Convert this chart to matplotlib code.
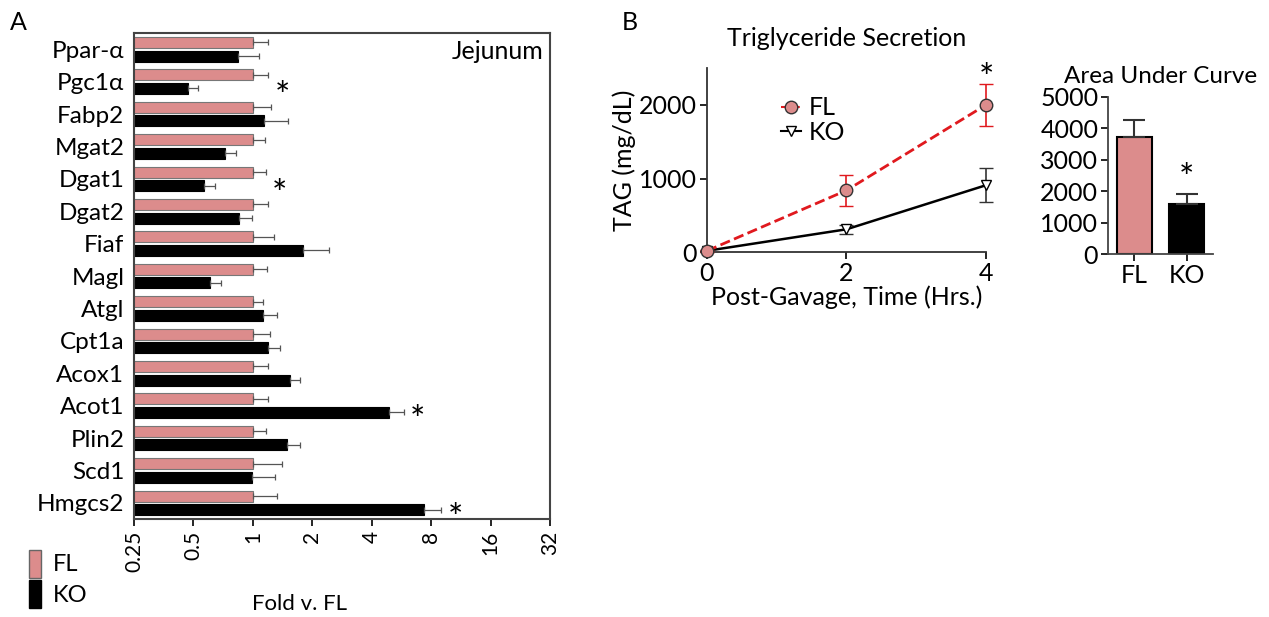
import numpy as np
import matplotlib
matplotlib.use('Agg')
import matplotlib.pyplot as plt
from matplotlib.patches import Patch
from matplotlib.lines import Line2D
from matplotlib.ticker import FixedLocator, NullLocator

plt.rcParams['font.family'] = ['Lato', 'DejaVu Sans']

# panel A: fold change, jejunum
genes = ['Ppar-α', 'Pgc1α', 'Fabp2', 'Mgat2', 'Dgat1', 'Dgat2', 'Fiaf', 'Magl',
         'Atgl', 'Cpt1a', 'Acox1', 'Acot1', 'Plin2', 'Scd1', 'Hmgcs2']
fl_fold = [1, 1, 1, 1, 1, 1, 1, 1, 1, 1, 1, 1, 1, 1, 1]
fl_err = [0.2, 0.2, 0.24, 0.15, 0.16, 0.2, 0.28, 0.18, 0.12, 0.22, 0.2, 0.19, 0.16, 0.40, 0.33]
ko_fold = [0.84, 0.47, 1.14, 0.72, 0.565, 0.85, 1.79, 0.61, 1.12, 1.2, 1.55, 4.9, 1.49, 0.99, 7.4]
ko_err = [0.24, 0.06, 0.36, 0.10, 0.075, 0.14, 0.65, 0.08, 0.21, 0.17, 0.19, 0.9, 0.25, 0.31, 1.6]
sig_genes = ['Pgc1α', 'Dgat1', 'Acot1', 'Hmgcs2']
xticks_a = [0.25, 0.5, 1, 2, 4, 8, 16, 32]
xtick_labels_a = ['0.25', '0.5', '1', '2', '4', '8', '16', '32']

# panel B: TAG secretion
hours = [0, 2, 4]
fl_tag = [20, 840, 2000]
fl_tag_err = [10, 215, 285]
ko_tag = [20, 312, 910]
ko_tag_err = [10, 60, 227]

# panel C: area under curve
groups = ['FL', 'KO']
auc = [3710, 1580]
auc_err = [550, 330]

pink = '#dc8c8c'
red = '#e0191e'

fig = plt.figure(figsize=(12.69, 6.17), dpi=100)

# ---- A
ax = fig.add_axes([0.1056, 0.1588, 0.3278, 0.7877])
y = np.arange(len(genes))
ax.barh(y - 0.21, fl_fold, height=0.34, left=0, color=pink, edgecolor='#777777', lw=0.8,
        xerr=[np.zeros(len(genes)), fl_err], error_kw=dict(ecolor='#555555', lw=0.9, capsize=2.5, capthick=0.9))
ax.barh(y + 0.21, ko_fold, height=0.34, left=0, color='black', edgecolor='black', lw=0.8,
        xerr=[np.zeros(len(genes)), ko_err], error_kw=dict(ecolor='#555555', lw=0.9, capsize=2.5, capthick=0.9))
ax.set_xscale('log', base=2)
ax.set_xlim(0.25, 32)
ax.set_ylim(len(genes) - 0.5, -0.5)
ax.xaxis.set_major_locator(FixedLocator(xticks_a))
ax.xaxis.set_minor_locator(NullLocator())
ax.set_xticklabels(xtick_labels_a, rotation=90, fontsize=15)
ax.set_yticks(y)
ax.set_yticklabels(genes, fontsize=17.5)
ax.tick_params(axis='y', length=0, pad=7)
ax.tick_params(axis='x', length=5, width=1.2, direction='out')
for s in ax.spines.values():
    s.set_linewidth(1.5)
    s.set_color('#444444')
for g in sig_genes:
    i = genes.index(g)
    edge = max(fl_fold[i] + fl_err[i], ko_fold[i] + ko_err[i])
    ax.text(edge * 1.18, i + 0.5, '*', fontsize=26, ha='center', va='center')
ax.text(0.985, 0.985, 'Jejunum', transform=ax.transAxes, ha='right', va='top', fontsize=18)
fig.text(0.236, 0.005, 'Fold v. FL', ha='center', va='bottom', fontsize=16)
fig.legend(handles=[Patch(facecolor=pink, edgecolor='#666666', label='FL'),
                    Patch(facecolor='black', edgecolor='black', label='KO')],
           loc='lower left', bbox_to_anchor=(0.006, -0.02), frameon=False, fontsize=17,
           handlelength=0.5, handleheight=1.45, handletextpad=0.5, labelspacing=0.1)
fig.text(0.008, 0.963, 'A', fontsize=18, va='center')

# ---- B
axb = fig.add_axes([0.5571, 0.5911, 0.2199, 0.2987])
axb.errorbar(hours, fl_tag, yerr=fl_tag_err, color=red, ls='--', lw=2, marker='o', ms=9,
             mfc=pink, mec='#333333', mew=1, ecolor=red, elinewidth=1.2, capsize=5, capthick=1.2,
             clip_on=False, zorder=3)
axb.errorbar(hours, ko_tag, yerr=ko_tag_err, color='black', ls='-', lw=1.8, marker='v', ms=7,
             mfc='white', mec='black', mew=1, ecolor='#333333', elinewidth=1.2, capsize=5, capthick=1.2,
             clip_on=False, zorder=2)
axb.set_xlim(0, 4)
axb.set_ylim(0, 2500)
axb.set_xticks([0, 2, 4])
axb.set_yticks([0, 1000, 2000])
axb.tick_params(labelsize=18, length=5, width=1.2, pad=2)
axb.spines[['top', 'right']].set_visible(False)
for s in ['left', 'bottom']:
    axb.spines[s].set_linewidth(1.3)
    axb.spines[s].set_color('#333333')
axb.set_ylabel('TAG (mg/dL)', fontsize=18, labelpad=2)
axb.set_xlabel('Post-Gavage, Time (Hrs.)', fontsize=18, labelpad=0)
axb.set_title('Triglyceride Secretion', fontsize=18, pad=16)
axb.text(4, fl_tag[2] + fl_tag_err[2] - 160, '*', fontsize=26, ha='center', va='bottom')
leg_handles = [Line2D([], [], color=red, ls='--', lw=1.5, marker='o', ms=9, mfc=pink, mec='#333333'),
               Line2D([], [], color='black', lw=1.5, marker='v', ms=7, mfc='white', mec='black')]
axb.legend(leg_handles, ['FL', 'KO'], loc='upper left', bbox_to_anchor=(0.23, 0.9), frameon=False,
           fontsize=18, handlelength=0.8, handletextpad=0.3, labelspacing=0.05, borderaxespad=0)
fig.text(0.49, 0.963, 'B', fontsize=18, va='center')

# ---- C
axc = fig.add_axes([0.8731, 0.5883, 0.0827, 0.255])
xc = np.arange(len(groups))
axc.bar(xc, auc, width=0.67, color=[pink, 'black'], edgecolor='black', lw=1.5,
        yerr=[[0, 0], auc_err], error_kw=dict(ecolor='#333333', lw=1.5, capsize=8, capthick=1.5))
axc.set_xlim(-0.5, 1.5)
axc.set_ylim(0, 5000)
axc.set_xticks(xc)
axc.set_xticklabels(groups)
axc.set_yticks(np.arange(0, 5001, 1000))
axc.tick_params(labelsize=18, length=5, width=1.2, pad=2)
axc.spines[['top', 'right']].set_visible(False)
for s in ['left', 'bottom']:
    axc.spines[s].set_linewidth(1.3)
    axc.spines[s].set_color('#444444')
axc.set_title('Area Under Curve', fontsize=17.5, pad=10)
axc.text(1, auc[1] + auc_err[1] - 60, '*', fontsize=26, ha='center', va='bottom')

fig.savefig('out.png', dpi=100)
